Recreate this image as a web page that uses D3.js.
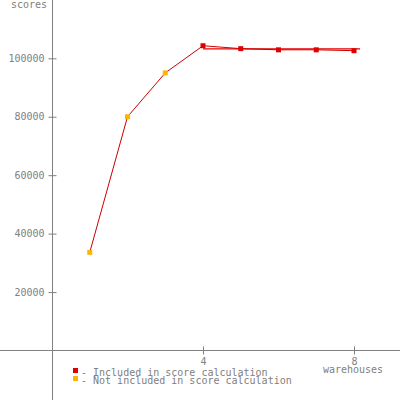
<!DOCTYPE html>
<html>
<head>
<meta charset="utf-8">
<script src="https://cdn.jsdelivr.net/npm/d3@7"></script>
<style>
  body { margin: 0; background: #fff; }
  text { font-family: "DejaVu Sans Mono", monospace; font-size: 10px; fill: #808080; }
</style>
</head>
<body>
<div id="chart"></div>
<script>
const warehouses = [1, 2, 3, 4, 5, 6, 7, 8];
const scores = [33600, 80000, 95000, 104300, 103300, 102900, 102900, 102600];
const included = [false, false, false, true, true, true, true, true];
const yTicks = [20000, 40000, 60000, 80000, 100000];
const xTicks = [4, 8];
const legendLabels = ["- Included in score calculation", "- Not included in score calculation"];

const width = 400;
const height = 400;
const red = "#e00000";
const orange = "#ffb400";
const grey = "#808080";

const svg = d3.select("#chart").append("svg")
    .attr("width", width)
    .attr("height", height);

const x = d3.scaleLinear().domain([0, 8]).range([52, 354]);
const y = d3.scaleLinear().domain([0, 100000]).range([350.5, 58.3]);

// axes lines across the whole picture
svg.append("line")
    .attr("x1", 0).attr("x2", width)
    .attr("y1", 350.5).attr("y2", 350.5)
    .attr("stroke", grey);
svg.append("line")
    .attr("x1", 52.5).attr("x2", 52.5)
    .attr("y1", 0).attr("y2", height)
    .attr("stroke", grey);

const yAxis = svg.append("g")
    .attr("transform", "translate(52.5,0)")
    .call(d3.axisLeft(y).tickValues(yTicks).tickSize(4).tickPadding(4).tickFormat(d3.format("d")));
yAxis.select(".domain").remove();
yAxis.selectAll(".tick line").attr("x1", 4).attr("x2", -4).attr("stroke", grey);
yAxis.selectAll(".tick text").attr("font-family", null).attr("font-size", null).attr("fill", null);

const xAxis = svg.append("g")
    .attr("transform", "translate(0,350.5)")
    .call(d3.axisBottom(x).tickValues(xTicks).tickSize(4).tickPadding(3).tickFormat(d3.format("d")));
xAxis.select(".domain").remove();
xAxis.selectAll(".tick line").attr("y1", -4).attr("y2", 4).attr("stroke", grey);
xAxis.selectAll(".tick text").attr("font-family", null).attr("font-size", null).attr("fill", null);

svg.append("text")
    .attr("x", 47).attr("y", 8)
    .attr("text-anchor", "end")
    .text("scores");

svg.append("text")
    .attr("x", 353).attr("y", 373)
    .attr("text-anchor", "middle")
    .text("warehouses");

const data = warehouses.map((w, i) => ({ w: w, v: scores[i], inc: included[i] }));

// score line over the included points
const incData = data.filter(d => d.inc);
const mean = d3.mean(incData, d => d.v);
svg.append("line")
    .attr("x1", x(4)).attr("x2", x(8) + 6)
    .attr("y1", y(mean)).attr("y2", y(mean))
    .attr("stroke", red)
    .attr("stroke-width", 1.2);

const line = d3.line()
    .x(d => x(d.w))
    .y(d => y(d.v));

svg.append("path")
    .datum(data)
    .attr("d", line)
    .attr("fill", "none")
    .attr("stroke", "#cc0000")
    .attr("stroke-width", 1);

svg.selectAll(".pt")
    .data(data)
    .enter()
    .append("rect")
    .attr("class", "pt")
    .attr("x", d => x(d.w) - 2.5)
    .attr("y", d => y(d.v) - 2.5)
    .attr("width", 5)
    .attr("height", 5)
    .attr("fill", d => d.inc ? red : orange);

const legend = svg.append("g");
[red, orange].forEach((c, i) => {
    legend.append("rect")
        .attr("x", 73).attr("y", 368 + i * 8)
        .attr("width", 5).attr("height", 5)
        .attr("fill", c);
    legend.append("text")
        .attr("x", 81).attr("y", 376 + i * 8)
        .text(legendLabels[i]);
});
</script>
</body>
</html>
